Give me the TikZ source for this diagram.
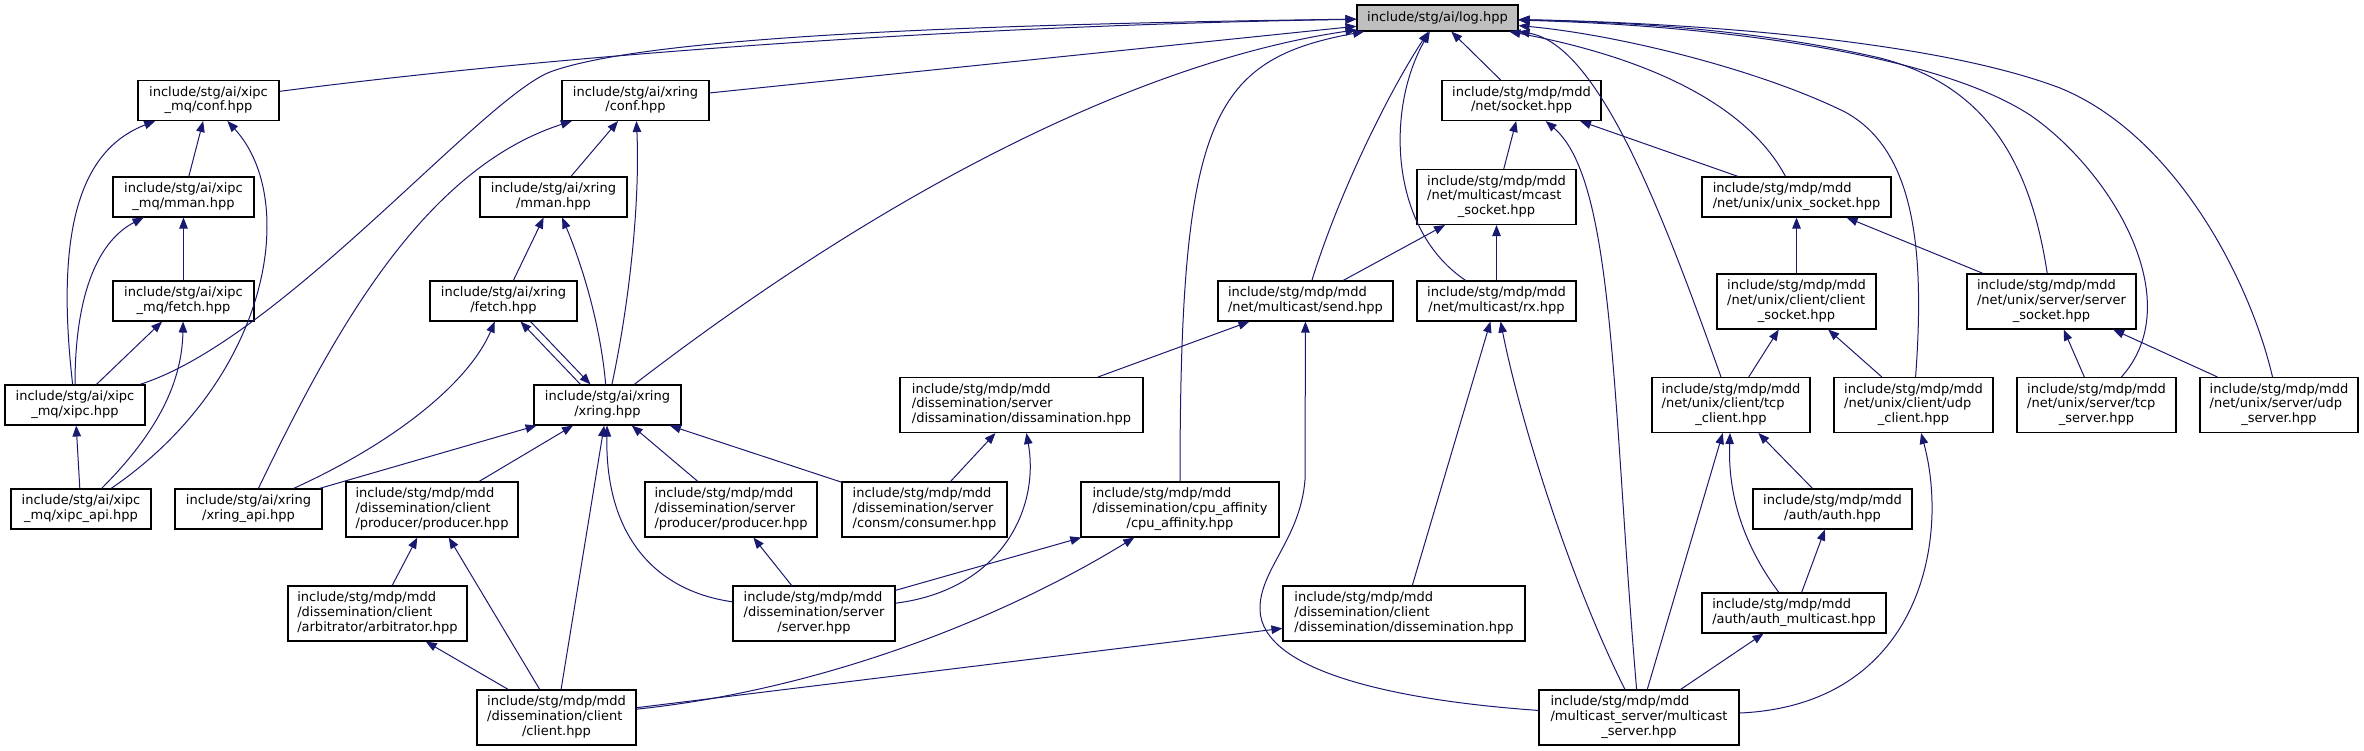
\documentclass[tikz,border=0pt]{standalone}
\usepackage{fontspec}
\setmainfont{DejaVu Sans}
\usepackage{xcolor}
\usepackage{tikz}
\usetikzlibrary{arrows.meta}

\definecolor{edgeblue}{HTML}{191970}
\definecolor{rootgray}{HTML}{BFBFBF}
% file label: leading lines flush left, last line centred
\newcommand{\flab}[2]{\begin{tabular}{@{}l@{}}#1\\\multicolumn{1}{@{}c@{}}{#2}\end{tabular}}

\begin{document}
\begin{tikzpicture}[x=1pt, y=-1pt,
  hfile/.style={draw=black, line width=1.1pt, fill=white, inner sep=0pt,
    font=\fontsize{13}{14.7}\selectfont},
  hfile2/.style={hfile, minimum height=40pt},
  hfile3/.style={hfile, minimum height=55pt},
  hroot/.style={hfile, fill=rootgray, minimum height=26pt},
  dep/.style={draw=edgeblue, line width=1pt, -{Triangle[length=11pt, width=8.5pt]}}]
  \useasboundingbox (0,0) rectangle (2364,751);

  % Root header
  \node[hroot, minimum width=161pt] (log) at (1437.5,18) {include/stg/ai/log.hpp};

  % Row 1
  \node[hfile2, minimum width=141pt] (xipcconf) at (208.5,100.5) {\flab{include/stg/ai/xipc}{\_mq/conf.hpp}};
  \node[hfile2, minimum width=147pt] (xringconf) at (635.5,100.5) {\flab{include/stg/ai/xring}{/conf.hpp}};
  \node[hfile2, minimum width=159pt] (socket) at (1521.5,100.5) {\flab{include/stg/mdp/mdd}{/net/socket.hpp}};

  % Row 2
  \node[hfile2, minimum width=141pt] (xipcmman) at (183.5,197) {\flab{include/stg/ai/xipc}{\_mq/mman.hpp}};
  \node[hfile2, minimum width=147pt] (xringmman) at (553.5,197) {\flab{include/stg/ai/xring}{/mman.hpp}};
  \node[hfile3, minimum width=159pt] (mcastsock) at (1496.5,197) {\flab{include/stg/mdp/mdd\\/net/multicast/mcast}{\_socket.hpp}};
  \node[hfile2, minimum width=189pt] (unixsock) at (1796.5,197) {\flab{include/stg/mdp/mdd}{/net/unix/unix\_socket.hpp}};

  % Row 3
  \node[hfile2, minimum width=141pt] (xipcfetch) at (183.5,301) {\flab{include/stg/ai/xipc}{\_mq/fetch.hpp}};
  \node[hfile2, minimum width=147pt] (xringfetch) at (503.5,301) {\flab{include/stg/ai/xring}{/fetch.hpp}};
  \node[hfile2, minimum width=175pt] (send) at (1305.5,301) {\flab{include/stg/mdp/mdd}{/net/multicast/send.hpp}};
  \node[hfile2, minimum width=159pt] (rx) at (1496.5,301) {\flab{include/stg/mdp/mdd}{/net/multicast/rx.hpp}};
  \node[hfile3, minimum width=159pt] (clientsock) at (1796.5,301.5) {\flab{include/stg/mdp/mdd\\/net/unix/client/client}{\_socket.hpp}};
  \node[hfile3, minimum width=169pt] (serversock) at (2051.5,301.5) {\flab{include/stg/mdp/mdd\\/net/unix/server/server}{\_socket.hpp}};

  % Row 4
  \node[hfile2, minimum width=140pt] (xipcxipc) at (75,405) {\flab{include/stg/ai/xipc}{\_mq/xipc.hpp}};
  \node[hfile2, minimum width=147pt] (xringxring) at (607.5,405) {\flab{include/stg/ai/xring}{/xring.hpp}};
  \node[hfile3, minimum width=243pt] (dissam) at (1021.5,405) {\flab{include/stg/mdp/mdd\\/dissemination/server}{/dissamination/dissamination.hpp}};
  \node[hfile3, minimum width=158pt] (tcpclient) at (1731,405) {\flab{include/stg/mdp/mdd\\/net/unix/client/tcp}{\_client.hpp}};
  \node[hfile3, minimum width=159pt] (udpclient) at (1913.5,405) {\flab{include/stg/mdp/mdd\\/net/unix/client/udp}{\_client.hpp}};
  \node[hfile3, minimum width=159pt] (tcpserver) at (2096.5,405) {\flab{include/stg/mdp/mdd\\/net/unix/server/tcp}{\_server.hpp}};
  \node[hfile3, minimum width=158pt] (udpserver) at (2279,405) {\flab{include/stg/mdp/mdd\\/net/unix/server/udp}{\_server.hpp}};

  % Row 5
  \node[hfile2, minimum width=140pt] (xipcapi) at (81,509) {\flab{include/stg/ai/xipc}{\_mq/xipc\_api.hpp}};
  \node[hfile2, minimum width=147pt] (xringapi) at (248.5,509) {\flab{include/stg/ai/xring}{/xring\_api.hpp}};
  \node[hfile3, minimum width=172pt] (cliprod) at (432,509.5) {\flab{include/stg/mdp/mdd\\/dissemination/client}{/producer/producer.hpp}};
  \node[hfile3, minimum width=172pt] (srvprod) at (731,509.5) {\flab{include/stg/mdp/mdd\\/dissemination/server}{/producer/producer.hpp}};
  \node[hfile3, minimum width=165pt] (consumer) at (924.5,509.5) {\flab{include/stg/mdp/mdd\\/dissemination/server}{/consm/consumer.hpp}};
  \node[hfile3, minimum width=198pt] (cpuaff) at (1180,509.5) {\flab{include/stg/mdp/mdd\\/dissemination/cpu\_affinity}{/cpu\_affinity.hpp}};
  \node[hfile2, minimum width=159pt] (auth) at (1832.5,509) {\flab{include/stg/mdp/mdd}{/auth/auth.hpp}};

  % Row 6
  \node[hfile3, minimum width=179pt] (arbitr) at (377.5,613.5) {\flab{include/stg/mdp/mdd\\/dissemination/client}{/arbitrator/arbitrator.hpp}};
  \node[hfile3, minimum width=162pt] (server) at (814,613.5) {\flab{include/stg/mdp/mdd\\/dissemination/server}{/server.hpp}};
  \node[hfile3, minimum width=242pt] (clidiss) at (1404,613.5) {\flab{include/stg/mdp/mdd\\/dissemination/client}{/dissemination/dissemination.hpp}};
  \node[hfile2, minimum width=184pt] (authmc) at (1794,613) {\flab{include/stg/mdp/mdd}{/auth/auth\_multicast.hpp}};

  % Row 7
  \node[hfile3, minimum width=159pt] (client) at (556.5,717.5) {\flab{include/stg/mdp/mdd\\/dissemination/client}{/client.hpp}};
  \node[hfile3, minimum width=200pt] (mcserver) at (1639,717.5) {\flab{include/stg/mdp/mdd\\/multicast\_server/multicast}{\_server.hpp}};

  % Straight includes
  \foreach \a/\b in {xringconf/log, socket/log, xipcmman/xipcconf, xipcfetch/xipcmman,
      xipcxipc/xipcfetch, xipcapi/xipcxipc, xringmman/xringconf, xringfetch/xringmman,
      xringapi/xringxring, cliprod/xringxring, client/xringxring, srvprod/xringxring,
      consumer/xringxring, arbitr/cliprod, client/cliprod, client/arbitr, server/srvprod,
      consumer/dissam, dissam/send, server/cpuaff, client/clidiss, clidiss/rx,
      send/mcastsock, rx/mcastsock, mcastsock/socket, unixsock/socket, clientsock/unixsock,
      serversock/unixsock, tcpclient/clientsock, udpclient/clientsock, tcpserver/serversock,
      udpserver/serversock, mcserver/tcpclient, auth/tcpclient, authmc/auth, mcserver/authmc}
    \draw[dep] (\a) -- (\b);

  % Curved includes of log.hpp, left side
  \draw[dep] (xipcconf) .. controls (600,50) and (1000,25) .. (log);
  \draw[dep] (xipcxipc) .. controls (280,340) and (480,100) .. (550,72)
    .. controls (650,35) and (1000,24) .. (log);
  \draw[dep] (xringxring) .. controls (900,180) and (1150,60) .. (log);
  \draw[dep] (cpuaff) .. controls (1180,120) and (1210,60) .. (log);
  \draw[dep] (send) .. controls (1340,190) and (1390,90) .. (log);
  \draw[dep] (rx) .. controls (1390,230) and (1385,110) .. (log);

  % Curved includes of log.hpp, right side
  \draw[dep] (unixsock) .. controls (1750,110) and (1660,60) .. (log);
  \draw[dep] (tcpclient) .. controls (1665,220) and (1600,45) .. (log);
  \draw[dep] (udpclient) .. controls (1925,250) and (1915,150) .. (1845,112)
    .. controls (1760,70) and (1620,35) .. (log);
  \draw[dep] (serversock) .. controls (2030,160) and (1985,85) .. (1880,58)
    .. controls (1750,28) and (1620,22) .. (log);
  \draw[dep] (tcpserver) .. controls (2190,300) and (2110,170) .. (2030,115)
    .. controls (1930,50) and (1700,25) .. (log);
  \draw[dep] (udpserver) .. controls (2250,280) and (2175,135) .. (2060,88)
    .. controls (1920,35) and (1650,22) .. (log);

  % xipc group
  \draw[dep] (xipcxipc) .. controls (55,230) and (80,150) .. (xipcconf);
  \draw[dep] (xipcapi) .. controls (270,380) and (300,200) .. (xipcconf);
  \draw[dep] (xipcxipc) .. controls (75,290) and (100,240) .. (xipcmman);
  \draw[dep] (xipcapi) .. controls (160,430) and (182,380) .. (xipcfetch);

  % xring group
  \draw[dep] (xringxring) .. controls (630,300) and (640,200) .. (xringconf);
  \draw[dep] (xringapi) .. controls (330,340) and (420,170) .. (xringconf);
  \draw[dep] (xringxring) .. controls (600,320) and (580,260) .. (xringmman);
  \draw[dep] ([xshift=-27pt]xringxring.north) -- ([xshift=17pt]xringfetch.south);
  \draw[dep] ([xshift=27pt]xringfetch.south) -- ([xshift=-17pt]xringxring.north);
  \draw[dep] (xringapi) .. controls (400,440) and (470,380) .. (xringfetch);

  % dissemination
  \draw[dep] (server) .. controls (650,590) and (605,530) .. (xringxring);
  \draw[dep] (server) .. controls (1000,590) and (1040,510) .. (dissam);
  \draw[dep] (client) .. controls (820,690) and (1000,620) .. (cpuaff);

  % multicast server and auth
  \draw[dep] (mcserver) .. controls (1390,700) and (1262,670) .. (1260,610)
    .. controls (1259,570) and (1300,540) .. (1305,480) -- (send);
  \draw[dep] (mcserver) .. controls (1570,580) and (1520,420) .. (rx);
  \draw[dep] (mcserver) .. controls (1612,400) and (1615,180) .. (socket);
  \draw[dep] (authmc) .. controls (1740,540) and (1728,490) .. (tcpclient);
  \draw[dep] (mcserver) .. controls (1920,705) and (1950,540) .. (udpclient);
\end{tikzpicture}
\end{document}
